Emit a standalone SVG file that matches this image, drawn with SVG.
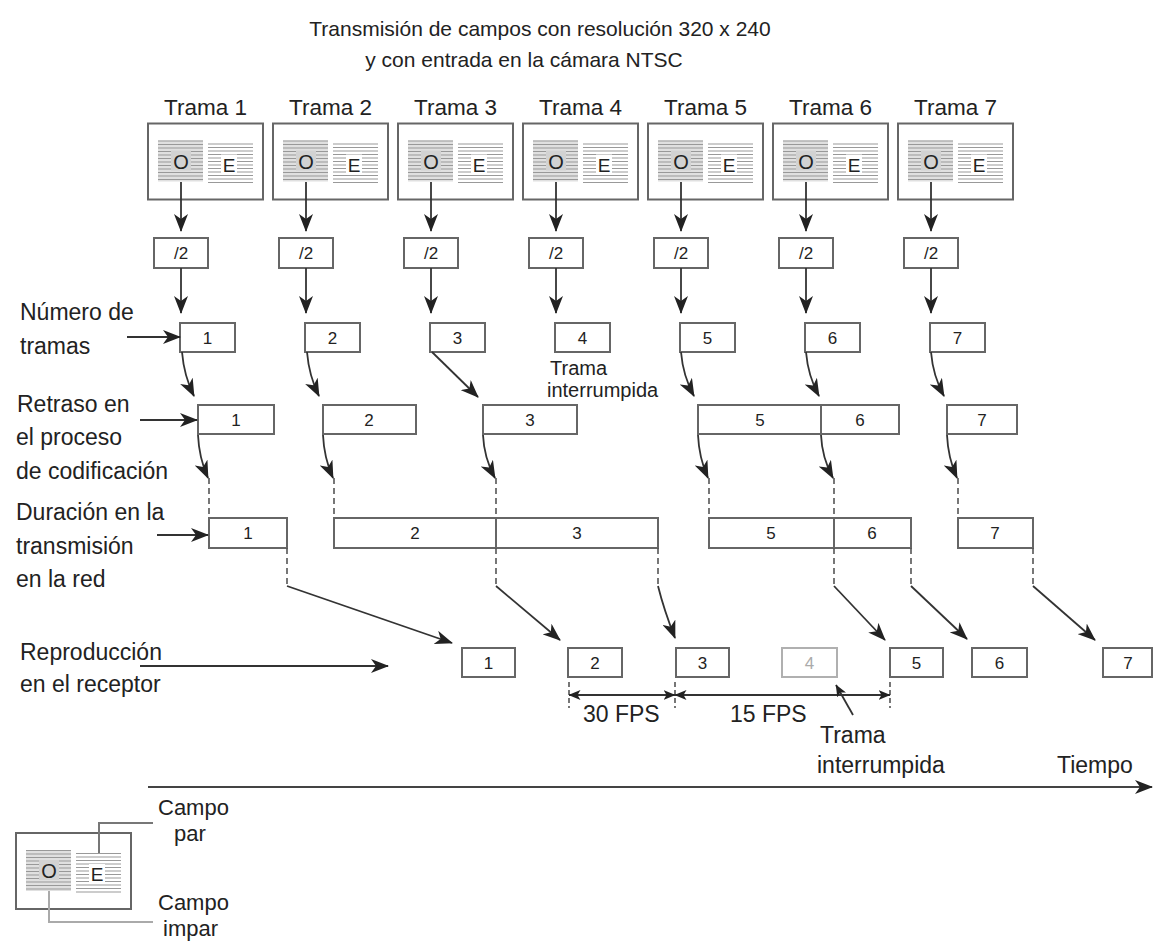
<svg xmlns="http://www.w3.org/2000/svg" width="1153" height="941" viewBox="0 0 1153 941">
<style>
text{font-family:"Liberation Sans",Arial,sans-serif;fill:#222}
.t{font-size:21px}
.lab{font-size:23px}
.lg{font-size:22px}
.tr{font-size:22.5px}
.n{font-size:17px;text-anchor:middle}
.box{fill:#fff;stroke:#666;stroke-width:2}
.gbox{fill:#fff;stroke:#b0b0b0;stroke-width:2}
.ln{fill:none;stroke:#333;stroke-width:1.8}
.ds{fill:none;stroke:#555;stroke-width:1.6;stroke-dasharray:6 4}
.ar{marker-end:url(#ah)}
.fl{stroke:#999;stroke-width:1}
</style>
<defs>
<marker id="ah" viewBox="0 0 18 14" refX="17" refY="7" markerWidth="18" markerHeight="14" orient="auto" markerUnits="userSpaceOnUse"><path d="M0,0 L18,7 L0,14 L5,7 z" fill="#222"/></marker>
<marker id="sm" viewBox="0 0 12 10" refX="11.5" refY="5" markerWidth="12" markerHeight="10" orient="auto-start-reverse" markerUnits="userSpaceOnUse"><path d="M0,0 L12,5 L0,10 L3,5 z" fill="#222"/></marker>
<g id="icon">
<rect x="0" y="0" width="115" height="76" class="box"/>
<rect x="10" y="17" width="45" height="41" fill="#e0e0e0"/>
<path class="fl" d="M10,17.5h45M10,21h45M10,24.5h45M10,28h45M10,31.5h45M10,35h45M10,38.5h45M10,42h45M10,45.5h45M10,49h45M10,52.5h45M10,56h45"/>
<path class="fl" d="M60,20.5h45M60,24h45M60,27.5h45M60,31h45M60,34.5h45M60,38h45M60,41.5h45M60,45h45M60,48.5h45M60,52h45M60,55.5h45M60,59h45"/>
<rect x="23" y="27" width="20" height="20" fill="#d2d2d2"/>
<rect x="73" y="31" width="16" height="19" fill="#fff"/>
<text x="33" y="45" style="font-size:20px;text-anchor:middle">O</text>
<text x="81" y="48" style="font-size:19px;text-anchor:middle">E</text>
</g>
</defs>
<rect width="1153" height="941" fill="#fff"/>
<g id="title">
<text class="t" x="540" y="36" text-anchor="middle">Transmisión de campos con resolución 320 x 240</text>
<text class="t" x="524" y="67" text-anchor="middle">y con entrada en la cámara NTSC</text>
</g>
<g id="frames">
<g id="frame1"><text class="tr" x="205.5" y="115" text-anchor="middle">Trama 1</text><use href="#icon" x="148" y="123.5"/><rect class="box" x="154" y="238" width="54" height="30"/><text class="n" x="181" y="259">/2</text><rect class="box" x="180" y="323" width="55" height="29"/><text class="n" x="207.5" y="343.5">1</text></g>
<g id="frame2"><text class="tr" x="330.5" y="115" text-anchor="middle">Trama 2</text><use href="#icon" x="273" y="123.5"/><rect class="box" x="279" y="238" width="54" height="30"/><text class="n" x="306" y="259">/2</text><rect class="box" x="305" y="323" width="55" height="29"/><text class="n" x="332.5" y="343.5">2</text></g>
<g id="frame3"><text class="tr" x="455.5" y="115" text-anchor="middle">Trama 3</text><use href="#icon" x="398" y="123.5"/><rect class="box" x="404" y="238" width="54" height="30"/><text class="n" x="431" y="259">/2</text><rect class="box" x="430" y="323" width="55" height="29"/><text class="n" x="457.5" y="343.5">3</text></g>
<g id="frame4"><text class="tr" x="580.5" y="115" text-anchor="middle">Trama 4</text><use href="#icon" x="523" y="123.5"/><rect class="box" x="529" y="238" width="54" height="30"/><text class="n" x="556" y="259">/2</text><rect class="box" x="555" y="323" width="55" height="29"/><text class="n" x="582.5" y="343.5">4</text>
<text x="550" y="375" style="font-size:20px">Trama</text><text x="547" y="397" style="font-size:20px">interrumpida</text></g>
<g id="frame5"><text class="tr" x="705.5" y="115" text-anchor="middle">Trama 5</text><use href="#icon" x="648" y="123.5"/><rect class="box" x="654" y="238" width="54" height="30"/><text class="n" x="681" y="259">/2</text><rect class="box" x="680" y="323" width="55" height="29"/><text class="n" x="707.5" y="343.5">5</text></g>
<g id="frame6"><text class="tr" x="830.5" y="115" text-anchor="middle">Trama 6</text><use href="#icon" x="773" y="123.5"/><rect class="box" x="779" y="238" width="54" height="30"/><text class="n" x="806" y="259">/2</text><rect class="box" x="805" y="323" width="55" height="29"/><text class="n" x="832.5" y="343.5">6</text></g>
<g id="frame7"><text class="tr" x="955.5" y="115" text-anchor="middle">Trama 7</text><use href="#icon" x="898" y="123.5"/><rect class="box" x="904" y="238" width="54" height="30"/><text class="n" x="931" y="259">/2</text><rect class="box" x="930" y="323" width="55" height="29"/><text class="n" x="957.5" y="343.5">7</text></g>
</g>
<g id="delay">
<rect class="box" x="198" y="405" width="76" height="29"/><text class="n" x="236" y="425.5">1</text>
<rect class="box" x="323" y="405" width="93" height="29"/><text class="n" x="369" y="425.5">2</text>
<rect class="box" x="483" y="405" width="94" height="29"/><text class="n" x="530" y="425.5">3</text>
<rect class="box" x="698" y="405" width="201" height="29"/><line x1="821" y1="405" x2="821" y2="434" stroke="#666" stroke-width="2"/><text class="n" x="760" y="425.5">5</text><text class="n" x="860" y="425.5">6</text>
<rect class="box" x="947" y="405" width="70" height="29"/><text class="n" x="982" y="425.5">7</text>
</g>
<g id="network">
<rect class="box" x="209" y="518" width="78" height="30"/><text class="n" x="248" y="539">1</text>
<rect class="box" x="334" y="518" width="324" height="30"/><line x1="496" y1="518" x2="496" y2="548" stroke="#666" stroke-width="2"/><text class="n" x="415" y="539">2</text><text class="n" x="577" y="539">3</text>
<rect class="box" x="709" y="518" width="202" height="30"/><line x1="834" y1="518" x2="834" y2="548" stroke="#666" stroke-width="2"/><text class="n" x="771" y="539">5</text><text class="n" x="872" y="539">6</text>
<rect class="box" x="958" y="518" width="75" height="30"/><text class="n" x="995" y="539">7</text>
</g>
<g id="playback">
<rect class="box" x="462" y="648" width="53" height="29"/><text class="n" x="488.5" y="668.5">1</text>
<rect class="box" x="568" y="648" width="54" height="29"/><text class="n" x="595" y="668.5">2</text>
<rect class="box" x="676" y="648" width="53" height="29"/><text class="n" x="702.5" y="668.5">3</text>
<rect class="gbox" x="782" y="648" width="55" height="29"/><text class="n" x="809.5" y="668.5" style="fill:#aaa">4</text>
<rect class="box" x="890" y="648" width="53" height="29"/><text class="n" x="916.5" y="668.5">5</text>
<rect class="box" x="972" y="648" width="55" height="29"/><text class="n" x="999.5" y="668.5">6</text>
<rect class="box" x="1103" y="648" width="49" height="29"/><text class="n" x="1128" y="668.5">7</text>
</g>
<g id="labels">
<text class="lab" x="20" y="320">Número de</text><text class="lab" x="20" y="354">tramas</text>
<text class="lab" x="17" y="412">Retraso en</text><text class="lab" x="16" y="445">el proceso</text><text class="lab" x="16" y="479">de codificación</text>
<text class="lab" x="16" y="520">Duración en la</text><text class="lab" x="16" y="554">transmisión</text><text class="lab" x="16" y="587">en la red</text>
<text class="lab" x="20" y="660">Reproducción</text><text class="lab" x="20" y="692">en el receptor</text>
<text class="lab" x="583" y="722">30 FPS</text>
<text class="lab" x="730" y="722">15 FPS</text>
<text class="lab" x="820" y="743">Trama</text><text class="lab" x="817" y="773">interrumpida</text>
<text class="lab" x="1057" y="773">Tiempo</text>
</g>
<g id="legend">
<use href="#icon" x="16" y="833"/>
<path d="M99,853 V823 H153" fill="none" stroke="#777" stroke-width="2"/>
<path d="M49,891 V922 H153" fill="none" stroke="#aaa" stroke-width="2"/>
<text class="lg" x="158" y="815">Campo</text><text class="lg" x="174" y="841">par</text>
<text class="lg" x="158" y="910">Campo</text><text class="lg" x="163" y="936">impar</text>
</g>
<g id="connectors">
<path class="ln ar" d="M181,182 V231"/><path class="ln ar" d="M181,268 V313"/>
<path class="ln ar" d="M306,182 V231"/><path class="ln ar" d="M306,268 V313"/>
<path class="ln ar" d="M431,182 V231"/><path class="ln ar" d="M431,268 V313"/>
<path class="ln ar" d="M556,182 V231"/><path class="ln ar" d="M556,268 V313"/>
<path class="ln ar" d="M681,182 V231"/><path class="ln ar" d="M681,268 V313"/>
<path class="ln ar" d="M806,182 V231"/><path class="ln ar" d="M806,268 V313"/>
<path class="ln ar" d="M931,182 V231"/><path class="ln ar" d="M931,268 V313"/>
<path class="ln ar" d="M127,337 H180"/>
<path class="ln ar" d="M140,420 H197"/>
<path class="ln ar" d="M157,535 H208"/>
<path class="ln ar" d="M140,666 H388"/>
<path class="ln ar" d="M182,352 Q184,376 194,396"/>
<path class="ln ar" d="M307,352 Q309,376 319,396"/>
<path class="ln ar" d="M432,352 L478,397"/>
<path class="ln ar" d="M681,352 Q683,376 694,396"/>
<path class="ln ar" d="M806,352 Q808,376 819,396"/>
<path class="ln ar" d="M931,352 Q933,376 944,396"/>
<path class="ln ar" d="M198,435 Q199,458 208,478"/>
<path class="ln ar" d="M323,435 Q324,458 333,478"/>
<path class="ln ar" d="M483,435 Q484,458 495,478"/>
<path class="ln ar" d="M698,435 Q699,458 708,478"/>
<path class="ln ar" d="M821,435 Q822,458 833,478"/>
<path class="ln ar" d="M947,435 Q948,458 957,478"/>
<path class="ds" d="M209,478 V518M334,478 V518M496,478 V518M709,478 V518M834,478 V518M958,478 V518"/>
<path class="ds" d="M287,548 V586M496,548 V586M658,548 V586M834,548 V586M911,548 V586M1033,548 V586"/>
<path class="ln ar" d="M287,586 L452,643"/>
<path class="ln ar" d="M496,586 L560,640"/>
<path class="ln ar" d="M658,586 Q664,610 675,638"/>
<path class="ln ar" d="M834,586 L885,640"/>
<path class="ln ar" d="M911,586 L967,639"/>
<path class="ln ar" d="M1033,586 L1095,640"/>
<path class="ds" d="M569,682 V708M675,682 V708M890,682 V708" style="stroke-dasharray:5 3"/>
<path class="ln" d="M569,695 H675" marker-start="url(#sm)" marker-end="url(#sm)"/>
<path class="ln" d="M675,695 H890" marker-start="url(#sm)" marker-end="url(#sm)"/>
<path class="ln" d="M853,715 L836,685" marker-end="url(#sm)"/>
<path class="ln ar" d="M148,787 H1152" style="stroke:#444;stroke-width:2"/>
</g>
</svg>
